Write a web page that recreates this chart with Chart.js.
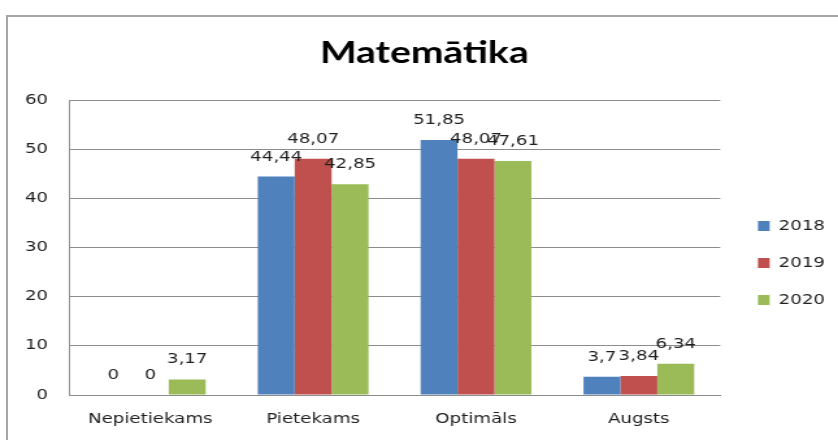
<!DOCTYPE html>
<html lang="lv">
    <head>
        <meta charset="UTF-8" />
        <title>Matemātika</title>
        <script src="https://cdn.jsdelivr.net/npm/chart.js"></script>
        <style>
            body {
                margin: 0;
                background: #ffffff;
                overflow: hidden;
            }
            #frame {
                position: absolute;
                left: 6px;
                top: 15px;
                width: 900px;
                height: 500px;
                border: 2px solid #a6a6a6;
            }
            #myChart {
                position: absolute;
                left: 0;
                top: 0;
            }
        </style>
    </head>
    <body>
        <div id="frame"></div>
        <!-- drawn narrower and stretched, the source picture is widened -->
        <canvas id="myChart" width="645" height="440" style="width: 838px; height: 440px"></canvas>
        <script>
            const categories = ["Nepietiekams", "Pietekams", "Optimāls", "Augsts"];
            const years = ["2018", "2019", "2020"];
            const values2018 = [0, 44.44, 51.85, 3.7];
            const values2019 = [0, 48.07, 48.07, 3.84];
            const values2020 = [3.17, 42.85, 47.61, 6.34];
            const yMax = 60;
            const yStep = 10;

            const colors = ["#4f81bd", "#c0504d", "#9bbb59"];
            const textColor = "#1f1f1f";
            const axisFont = { family: "'DejaVu Sans'", size: 14 };

            // value labels above the bars, comma as decimal separator
            const barLabels = {
                id: "barLabels",
                afterDatasetsDraw(chart) {
                    const ctx = chart.ctx;
                    ctx.save();
                    ctx.font = "14px 'DejaVu Sans'";
                    ctx.fillStyle = textColor;
                    ctx.textAlign = "center";
                    ctx.textBaseline = "alphabetic";
                    chart.data.datasets.forEach((ds, i) => {
                        chart.getDatasetMeta(i).data.forEach((bar, j) => {
                            const text = String(ds.data[j]).replace(".", ",");
                            ctx.fillText(text, bar.x, bar.y - 16);
                        });
                    });
                    ctx.restore();
                },
            };

            // nudge legend and title to where Excel put them
            const boxNudge = {
                id: "boxNudge",
                afterLayout(chart) {
                    const l = chart.legend;
                    l.left += 6;
                    l.right += 6;
                    l.top += 43;
                    l.bottom += 43;
                    const t = chart.titleBlock;
                    t.left += 7;
                    t.right += 7;
                },
            };

            const ctx = document.getElementById("myChart").getContext("2d");
            const myChart = new Chart(ctx, {
                type: "bar",
                data: {
                    labels: categories,
                    datasets: [
                        { label: years[0], data: values2018, backgroundColor: colors[0] },
                        { label: years[1], data: values2019, backgroundColor: colors[1] },
                        { label: years[2], data: values2020, backgroundColor: colors[2] },
                    ],
                },
                options: {
                    responsive: false,
                    animation: false,
                    devicePixelRatio: 1,
                    categoryPercentage: 0.68,
                    barPercentage: 1,
                    layout: { padding: { left: 0, right: 6, top: 0, bottom: 0 } },
                    plugins: {
                        title: {
                            display: true,
                            text: "Matemātika",
                            color: "#000000",
                            font: { family: "Lato", size: 30, weight: "bold" },
                            padding: { top: 35, bottom: 29 },
                        },
                        legend: {
                            position: "right",
                            labels: {
                                boxWidth: 9,
                                boxHeight: 10,
                                padding: 23,
                                color: textColor,
                                font: axisFont,
                            },
                        },
                        tooltip: { enabled: false },
                    },
                    scales: {
                        x: {
                            grid: { display: false },
                            border: { color: "#8c8c8c" },
                            ticks: { color: textColor, font: axisFont, padding: 8 },
                            afterFit(scale) {
                                scale.height = 45;
                            },
                        },
                        y: {
                            min: 0,
                            max: yMax,
                            grid: { color: "#8c8c8c", drawTicks: false },
                            border: { color: "#8c8c8c" },
                            ticks: {
                                stepSize: yStep,
                                color: textColor,
                                font: axisFont,
                                padding: 16,
                            },
                            afterFit(scale) {
                                scale.width = 53;
                            },
                        },
                    },
                },
                plugins: [barLabels, boxNudge],
            });
        </script>
    </body>
</html>
